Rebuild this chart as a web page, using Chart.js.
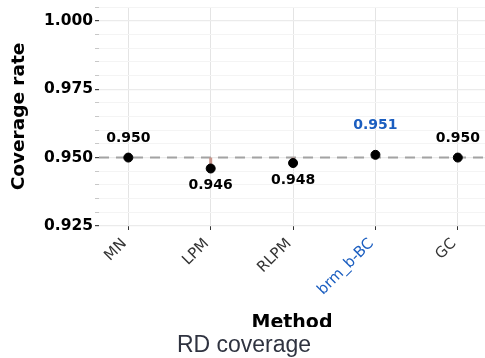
<!DOCTYPE html>
<html>
<head>
<meta charset="utf-8">
<script src="https://cdn.jsdelivr.net/npm/chart.js@4.4.1/dist/chart.umd.min.js"></script>
<style>
  html, body { margin: 0; padding: 0; background: #fff; }
  canvas { display: block; }
</style>
</head>
<body>
<canvas id="coverage" width="485" height="358"></canvas>
<script>
const methods = ["MN", "LPM", "RLPM", "brm_b-BC", "GC"];
const coverage = [0.950, 0.946, 0.948, 0.951, 0.950];
const highlight = "brm_b-BC";
const nominal = 0.95;
const yMajorTicks = [0.925, 0.950, 0.975, 1.000];
const yMinorStep = 0.005;
const yMin = 0.925, yMax = 1.005;

const BLUE = "#1b5ec0";
const FONT = "'DejaVu Sans', sans-serif";

const isMajor = v => yMajorTicks.some(m => Math.abs(m - v) < 1e-6);

// dashed nominal line + pink deviation segments, drawn under the points
const refLine = {
  id: "refLine",
  beforeDatasetsDraw(chart) {
    const { ctx, chartArea, scales: { x, y } } = chart;
    const y0 = y.getPixelForValue(nominal);
    ctx.save();
    ctx.strokeStyle = "#a3a3a3";
    ctx.lineWidth = 2;
    ctx.setLineDash([10, 7]);
    ctx.beginPath();
    ctx.moveTo(chartArea.left, y0);
    ctx.lineTo(chartArea.right, y0);
    ctx.stroke();
    ctx.setLineDash([]);
    ctx.strokeStyle = "#c9958b";
    ctx.lineWidth = 3;
    coverage.forEach((v, i) => {
      const px = x.getPixelForValue(i);
      ctx.beginPath();
      ctx.moveTo(px, y0);
      ctx.lineTo(px, y.getPixelForValue(v));
      ctx.stroke();
    });
    ctx.restore();
  }
};

// value labels above / below each point
const valueLabels = {
  id: "valueLabels",
  afterDatasetsDraw(chart) {
    const { ctx } = chart;
    const pts = chart.getDatasetMeta(0).data;
    ctx.save();
    ctx.font = "bold 14px " + FONT;
    ctx.textAlign = "center";
    ctx.textBaseline = "middle";
    pts.forEach((p, i) => {
      const v = coverage[i];
      const hl = methods[i] === highlight;
      ctx.fillStyle = hl ? BLUE : "#000";
      let dy;
      if (v >= nominal) dy = hl ? -29 : -19;
      else dy = 17;
      ctx.fillText(v.toFixed(3), p.x, p.y + dy);
    });
    ctx.restore();
  }
};

// caption under the plot
const caption = {
  id: "caption",
  afterDraw(chart) {
    const { ctx, width } = chart;
    ctx.save();
    ctx.fillStyle = "#fff";
    ctx.fillRect(0, 327, width, 358 - 327);
    ctx.fillStyle = "#2f3340";
    ctx.font = "23px 'Liberation Sans', Arial, sans-serif";
    ctx.textAlign = "center";
    ctx.textBaseline = "alphabetic";
    ctx.fillText("RD coverage", 244, 352);
    ctx.restore();
  }
};

new Chart(document.getElementById("coverage"), {
  type: "scatter",
  data: {
    datasets: [{
      data: coverage.map((v, i) => ({ x: i, y: v })),
      backgroundColor: "#000",
      borderColor: "#000",
      pointRadius: 4.5,
      pointHoverRadius: 4.5
    }]
  },
  options: {
    responsive: false,
    animation: false,
    devicePixelRatio: 1,
    layout: { autoPadding: false, padding: { top: 7, right: 0, left: 0, bottom: 0 } },
    plugins: {
      legend: { display: false },
      tooltip: { enabled: false }
    },
    scales: {
      x: {
        type: "linear",
        min: -0.356,
        max: 4.33,
        afterBuildTicks: s => { s.ticks = methods.map((m, i) => ({ value: i })); },
        afterFit: s => { s.height = 132; s.paddingLeft = 0; s.paddingRight = 0; },
        ticks: {
          autoSkip: false,
          minRotation: 45,
          maxRotation: 45,
          padding: 5,
          labelOffset: -4,
          font: { family: FONT, size: 15 },
          color: c => methods[c.index] === highlight ? BLUE : "#333",
          callback: (v, i) => methods[i]
        },
        grid: {
          color: "#e4e4e4",
          lineWidth: 1,
          tickLength: 4,
          tickColor: "#333"
        },
        border: { display: false },
        title: {
          display: true,
          text: "Method",
          color: "#000",
          font: { family: FONT, size: 19, weight: "bold" },
          padding: { top: 0, bottom: 24 }
        }
      },
      y: {
        min: yMin,
        max: yMax,
        afterBuildTicks: s => {
          const t = [];
          for (let v = yMin; v <= yMax + 1e-9; v += yMinorStep) t.push({ value: +v.toFixed(3) });
          s.ticks = t;
        },
        afterFit: s => { s.width = 99; s.paddingTop = 0; s.paddingBottom = 0; },
        ticks: {
          autoSkip: false,
          padding: 2,
          color: "#000",
          font: { family: FONT, size: 15.5, weight: "bold", lineHeight: 0.9 },
          callback: v => isMajor(v) ? v.toFixed(3) : ""
        },
        grid: {
          color: c => isMajor(c.tick.value) ? "#ebebeb" : "#f4f4f4",
          lineWidth: c => isMajor(c.tick.value) ? 1.2 : 1,
          tickLength: 4,
          tickColor: c => isMajor(c.tick.value) ? "#444" : "#c8c8c8"
        },
        border: { display: false },
        title: {
          display: true,
          text: "Coverage rate",
          color: "#000",
          font: { family: FONT, size: 18.5, weight: "bold" },
          padding: { top: 8, bottom: 0 }
        }
      }
    }
  },
  plugins: [refLine, valueLabels, caption]
});
</script>
</body>
</html>
